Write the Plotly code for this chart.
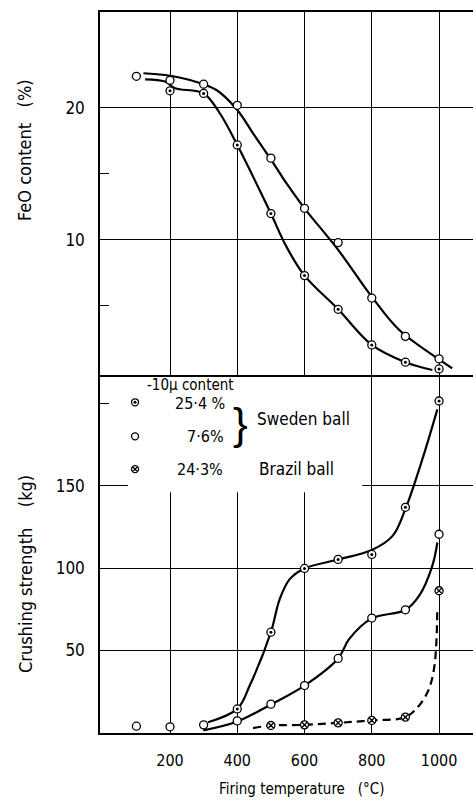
import plotly.graph_objects as go

FONT = "Liberation Sans Narrow, DejaVu Sans Condensed, Liberation Sans, sans-serif"

# ---------------- data ----------------
temps_a = [200, 300, 400, 500, 600, 700, 800, 900, 1000]
temps_b = [100, 200, 300, 400, 500, 600, 700, 800, 900, 1000]

# FeO content (%)
feo_254 = [21.3, 21.1, 17.2, 12.0, 7.3, 4.75, 2.05, 0.74, 0.23]
feo_76 = [22.4, 22.1, 21.8, 20.2, 16.2, 12.4, 9.8, 5.6, 2.7, 1.0]

# FeO fitted curves
feo_254_curve_x = [126, 185, 215, 300, 348, 400, 447, 500, 546, 600, 700, 800, 900, 980]
feo_254_curve_y = [22.17, 22.0, 21.5, 21.1, 19.6, 17.2, 14.8, 12.0, 9.5, 7.3, 4.75, 2.05, 0.74, 0.15]
feo_76_curve_x = [121, 190, 259, 338, 400, 447, 500, 546, 600, 700, 800, 881, 1000, 1039]
feo_76_curve_y = [22.63, 22.48, 22.12, 21.36, 19.85, 18.08, 16.1, 14.3, 12.4, 9.25, 5.7, 3.2, 0.95, 0.28]

# Crushing strength (kg)
temps_c = [400, 500, 600, 700, 800, 900, 1000]
cs_254 = [14.3, 61, 99.8, 105.3, 108.3, 137, 201.7]
cs_76 = [3.8, 3.4, 4.6, 7.0, 17.2, 28.5, 45, 69.6, 74.6, 120.6]
temps_d = [500, 600, 700, 800, 900, 1000]
cs_243 = [4.2, 4.6, 5.8, 7.3, 9.3, 86.2]

cs_254_curve_x = [313, 400, 437, 500, 526, 556, 600, 700, 800, 862, 900, 950, 995]
cs_254_curve_y = [6.2, 14.3, 28.5, 61, 81, 93.3, 99.8, 105.2, 111, 119.6, 136, 166, 196.6]
cs_76_curve_x = [299, 400, 500, 600, 700, 733, 800, 900, 941, 980, 995]
cs_76_curve_y = [1.2, 6.6, 17, 28.5, 45, 56.9, 69.4, 74.5, 83.2, 101.4, 115.6]
cs_243_curve_x = [447, 500, 600, 700, 800, 900, 941, 970, 985, 992, 995]
cs_243_curve_y = [2.6, 4.2, 4.6, 5.8, 7.3, 9.3, 16.4, 26.5, 38.6, 54.8, 76]

x_ticks = [200, 400, 600, 800, 1000]
feo_ticks = [10, 20]
feo_minor = [5, 15]
cs_ticks = [50, 100, 150]
cs_minor = [200]

legend_title = "-10\u03bc content"
legend_labels = ["25\u00b74 %", "7\u00b76%", "24\u00b73%"]
legend_groups = ["Sweden ball", "Brazil ball"]

# ---------------- figure ----------------
fig = go.Figure()

def curve(x, y, xa, ya, dash="solid"):
    fig.add_trace(go.Scatter(x=x, y=y, xaxis=xa, yaxis=ya, mode="lines",
                             line=dict(color="black", width=2.2, shape="spline", smoothing=1.0, dash=dash),
                             hoverinfo="skip", showlegend=False))

def pts(x, y, xa, ya, symbol, dot=False, size=8):
    fig.add_trace(go.Scatter(x=x, y=y, xaxis=xa, yaxis=ya, mode="markers",
                             marker=dict(symbol=symbol, size=size, color="white",
                                         line=dict(color="black", width=1.3)),
                             showlegend=False))
    if dot:
        fig.add_trace(go.Scatter(x=x, y=y, xaxis=xa, yaxis=ya, mode="markers",
                                 marker=dict(symbol="circle", size=3, color="black"),
                                 showlegend=False))

# top panel
curve(feo_76_curve_x, feo_76_curve_y, "x2", "y2")
curve(feo_254_curve_x, feo_254_curve_y, "x2", "y2")
pts(temps_b, feo_76, "x2", "y2", "circle")
pts(temps_a, feo_254, "x2", "y2", "circle", dot=True)

# bottom panel
curve(cs_254_curve_x, cs_254_curve_y, "x", "y")
curve(cs_76_curve_x, cs_76_curve_y, "x", "y")
curve(cs_243_curve_x, cs_243_curve_y, "x", "y", dash="8px,5px")
pts(temps_c, cs_254, "x", "y", "circle", dot=True)
pts(temps_b, cs_76, "x", "y", "circle")
pts(temps_d, cs_243, "x", "y", "circle-x")

# legend markers
pts([96], [200.9], "x", "y", "circle", dot=True, size=7)
pts([96], [180.2], "x", "y", "circle", size=7)
pts([96], [160.2], "x", "y", "circle-x", size=7)

ann = []
def text(x, y, t, size=17, xanchor="left", xref="x", yref="y", family=FONT, **kw):
    ann.append(dict(x=x, y=y, xref=xref, yref=yref, text=t, showarrow=False,
                    xanchor=xanchor, yanchor="middle", font=dict(family=family, size=size, color="black"), **kw))

text(126, 211.2, legend_title, size=15)
text(209, 200.2, legend_labels[0], size=16)
text(246, 180.2, legend_labels[1], size=16)
text(214, 160.2, legend_labels[2], size=16)
text(411, 188, "}", size=44, xanchor="center", family="Liberation Sans, sans-serif")
text(452, 190.5, legend_groups[0])
text(458, 160.2, legend_groups[1])

text(0.540, -0.0777, "Firing temperature &nbsp;&nbsp;(\u00b0C)", size=15, xanchor="center", xref="paper", yref="paper")
text(-0.201, 0.8086, "FeO content &nbsp;&nbsp;(%)", size=18, xanchor="center", xref="paper", yref="paper", textangle=-90)
text(-0.201, 0.2205, "Crushing strength &nbsp;&nbsp;&nbsp;(kg)", size=18, xanchor="center", xref="paper", yref="paper", textangle=-90)

xcommon = dict(range=[-8.2, 1101], tickvals=x_ticks, showgrid=True, gridcolor="black", gridwidth=1,
               zeroline=False, showline=True, linecolor="black", linewidth=1.5, ticks="")

fig.update_layout(
    width=473, height=800,
    margin=dict(l=100, r=0, t=12, b=67),
    paper_bgcolor="white", plot_bgcolor="white",
    font=dict(family=FONT, size=16, color="black"),
    showlegend=False,
    xaxis=dict(**xcommon, anchor="y", ticklabelstandoff=12, tickfont=dict(size=16)),
    xaxis2=dict(**xcommon, anchor="y2", matches="x", showticklabels=False, mirror=True),
    yaxis=dict(domain=[0, 0.4965], range=[-0.36, 217.5], tickvals=cs_ticks, showgrid=True,
               gridcolor="black", gridwidth=1, zeroline=False, showline=True, linecolor="black",
               linewidth=1.5, ticks="", ticklabelstandoff=10, tickfont=dict(size=17),
               minor=dict(tickvals=cs_minor, ticks="inside", ticklen=9, tickcolor="black", showgrid=False)),
    yaxis2=dict(domain=[0.4965, 1], range=[-0.23, 27.27], tickvals=feo_ticks, showgrid=True,
                gridcolor="black", gridwidth=1, zeroline=False, showline=True, linecolor="black",
                linewidth=1.5, ticks="", ticklabelstandoff=10, tickfont=dict(size=17),
                minor=dict(tickvals=feo_minor, ticks="inside", ticklen=9, tickcolor="black", showgrid=False)),
    annotations=ann,
    shapes=[dict(type="rect", xref="x", yref="y", x0=75, x1=772, y0=146.2, y1=218,
                 fillcolor="white", line=dict(width=0), layer="between")],
)

fig.write_html("out.html", config={"displayModeBar": False}, post_script=(
    "document.body.style.margin='0';document.body.style.padding='0';"
    "document.body.style.overflow='hidden';document.documentElement.style.overflow='hidden';"))
